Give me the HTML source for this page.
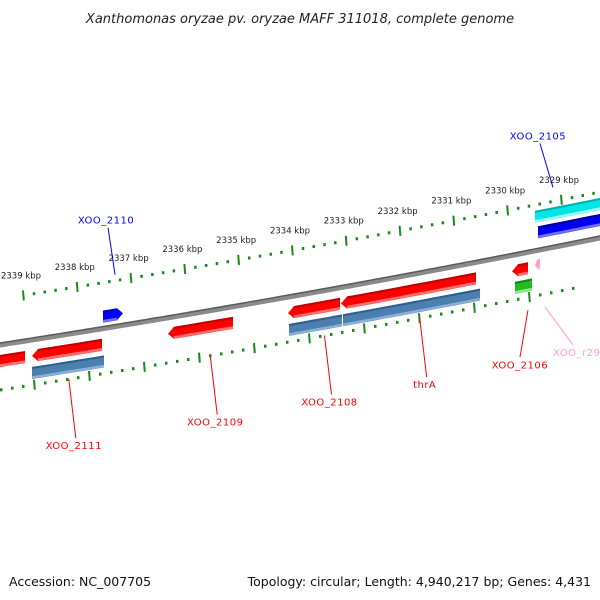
<!DOCTYPE html>
<html><head><meta charset="utf-8"><style>
html,body{margin:0;padding:0;background:#fff;}
svg{display:block;font-family:"DejaVu Sans","Liberation Sans",sans-serif;}
</style></head><body>
<svg id="map" width="600" height="600" viewBox="0 0 600 600" xmlns="http://www.w3.org/2000/svg">
<text x="300" y="23" text-anchor="middle" font-size="13" font-style="italic" fill="#222">Xanthomonas oryzae pv. oryzae MAFF 311018, complete genome</text>
<text x="9" y="586" font-size="12.5" fill="#111">Accession: NC_007705</text>
<text x="591" y="586" text-anchor="end" font-size="12.5" fill="#111">Topology: circular; Length: 4,940,217 bp; Genes: 4,431</text>
<g id="layer"></g>
</svg>
<script>
// ring tick data (kbp)
const upperTicks = [2339,2338,2337,2336,2335,2334,2333,2332,2331,2330,2329,2328];
const lowerTicks = [2340,2339,2338,2337,2336,2335,2334,2333,2332,2331,2330,2329];
// genes: start/end in kbp (positions decrease to the right)
const geneNames  = ["g-left","XOO_2111","XOO_2109","XOO_2108","thrA","XOO_2106","XOO_2110","cds-2105","XOO_2105","cds-2111","cds-2108","cds-thrA","XOO_r29-gene","rna-2106"];
const geneStart  = [2339.60,2338.926,2336.426,2334.221,2333.246,2330.103,2337.621,2329.680,2329.625,2338.926,2334.202,2333.210,2329.680,2330.048];
const geneEnd    = [2339.055,2337.640,2335.232,2333.265,2330.765,2329.809,2337.254,2328.40,2328.40,2337.603,2333.230,2330.691,2329.588,2329.735];
const geneTrack  = ["red","red","red","red","red","red","blue","cyan","blue2","steel","steel","steel","pink","green"];
const geneArrow  = ["none","left","left","left","left","left","right","none","none","none","none","none","left","none"];
// labels
const labelText  = ["XOO_2110","XOO_2105","XOO_2111","XOO_2109","XOO_2108","thrA","XOO_2106","XOO_r29"];
const labelKbp   = [2337.40,2329.35,2338.25,2335.65,2333.55,2331.80,2329.81,2329.496];

const NS="http://www.w3.org/2000/svg";
const layer=document.getElementById('layer');
function bb(x){return 345-0.155*x-0.0000389*x*x;}
function xBack(k){return 28+(2339-k)*54.4;}
function xUp(k){return 23+(2339-k)*53.8;}
function xLow(k){return 34+(2338-k)*55;}
function mk(tag,attrs){const e=document.createElementNS(NS,tag);for(const a in attrs)e.setAttribute(a,attrs[a]);layer.appendChild(e);return e;}

// backbone
let d="";for(let x=-5;x<=605;x+=5){d+=(x===-5?"M":"L")+x+","+bb(x).toFixed(2);}
let e=mk('path',{d:d,stroke:"#8a8a8a","stroke-width":5,fill:"none"});


e=mk('path',{d:d,stroke:"#5a5a5a","stroke-width":1.5,fill:"none",transform:"translate(0,-2)"});



// ticks
function ring(ticks,xf,off,name,labels){
  ticks.forEach(k=>{
    for(let i=0;i<5;i++){
      const x=xf(k-i*0.2); if(x<-3||x>603)continue;
      const y=bb(x)+off;
      let t;
      if(i===0){t=mk('line',{x1:x,y1:y-5,x2:x+0.8,y2:y+5,stroke:"#1a8a1a","stroke-width":2});
        }
      else{t=mk('rect',{x:x-1,y:y-1.5,width:2.5,height:3,fill:"#1a8a1a"});
        }
      
    }
    if(labels){const x=xf(k); if(x>-20&&x<600){
      const l=mk('text',{x:x-2,y:bb(x)+off-17,"text-anchor":"middle","font-size":"8.5",fill:"#222"});
      l.textContent=k+" kbp";
      
      }}
  });
}
ring(upperTicks,xUp,-46,'upper-ring',true);
ring(lowerTicks,xLow,45,'lower-ring',false);

// genes
const style={red:{off:16,h:12,fill:"#ff0000",top:"#c00000",bot:"#ff7070"},
 steel:{off:33,h:12,fill:"#4a7fb0",top:"#2f5f8f",bot:"#8ab0d8"},
 blue:{off:-12,h:12,fill:"#0000ff",top:"#0000b0",bot:"#7070ff"},
 blue2:{off:-18,h:12,fill:"#0000ee",top:"#0000a0",bot:"#7070ff"},
 cyan:{off:-34,h:12,fill:"#00e5e5",top:"#00b0b0",bot:"#a0ffff"},
 green:{off:33,h:12,fill:"#22bb22",top:"#118811",bot:"#88ee88"},
 pink:{off:14,h:10,fill:"#ff9ecb",top:"#ff9ecb",bot:"#ffc0dd"}};
for(let i=0;i<geneNames.length;i++){
  const s=style[geneTrack[i]];
  let x1=xBack(geneStart[i]),x2=xBack(geneEnd[i]);
  const a=geneArrow[i],hw=s.h/2,aw=Math.min(6,(x2-x1)*0.5);
  const bx1=a==="left"?x1+aw:x1,bx2=a==="right"?x2-aw:x2;
  const top=[],bot=[];
  const n=Math.max(2,Math.ceil((bx2-bx1)/8));
  for(let j=0;j<=n;j++){const x=bx1+(bx2-bx1)*j/n;const c=bb(x)+s.off;top.push([x,c-hw]);bot.push([x,c+hw]);}
  let pts=top.slice();
  if(a==="right")pts.push([x2,bb(x2)+s.off]);
  pts=pts.concat(bot.reverse());
  if(a==="left")pts.push([x1,bb(x1)+s.off]);
  const p=mk('polygon',{points:pts.map(q=>q[0].toFixed(1)+","+q[1].toFixed(1)).join(" "),fill:s.fill});
  
  
  const tl=mk('polyline',{points:top.map(q=>q[0].toFixed(1)+","+(q[1]+1).toFixed(1)).join(" "),stroke:s.top,"stroke-width":2,fill:"none"});
  
  
  const bl=mk('polyline',{points:bot.map(q=>q[0].toFixed(1)+","+(q[1]-1.5).toFixed(1)).join(" "),stroke:s.bot,"stroke-width":2.5,fill:"none"});
  
  
}

// labels with leader lines
const lab=[{c:"#0000ff",o1:-52,o2:-99,dx:-7,tx:-2,anc:"middle"},{c:"#0000ff",o1:-60,o2:-104,dx:-13,tx:-2,anc:"middle"},
 {c:"#ff0000",o1:45,o2:104,dx:7,tx:-2,anc:"middle"},{c:"#ff0000",o1:45,o2:104,dx:7,tx:-2,anc:"middle"},{c:"#ff0000",o1:45,o2:104,dx:7,tx:-2,anc:"middle"},
 {c:"#ff0000",o1:45,o2:104,dx:7,tx:-2,anc:"middle"},{c:"#ff0000",o1:58,o2:105,dx:-8,tx:0,anc:"middle"},{c:"#ff9ecb",o1:58,o2:96,dx:28,tx:-20,anc:"start"}];
for(let i=0;i<labelText.length;i++){
  const L=lab[i],x=xBack(labelKbp[i]),y1=bb(x)+L.o1,y2=bb(x)+L.o2;
  const ln=mk('line',{x1:x,y1:y1,x2:x+L.dx,y2:y2,stroke:L.c,"stroke-width":1});
  
  
  const above=L.o2<0;
  const t=mk('text',{x:x+L.dx+L.tx,y:above?y2-4:y2+11,"text-anchor":L.anc,"font-size":"10",fill:L.c,"letter-spacing":"0.5"});
  t.textContent=labelText[i];
  
  
}
</script>
</body></html>
